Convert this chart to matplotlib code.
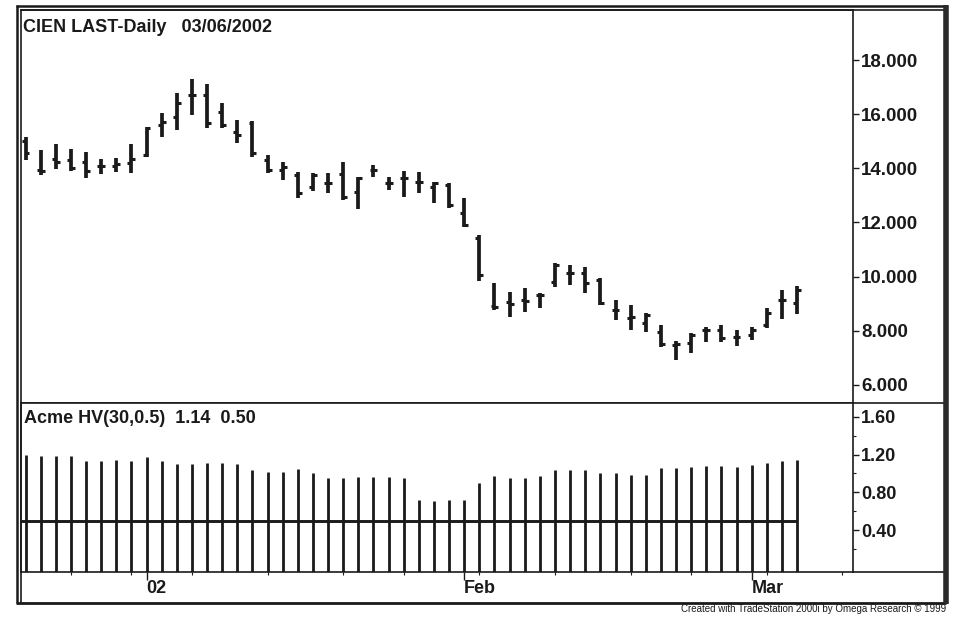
import matplotlib
matplotlib.use("Agg")
import matplotlib.pyplot as plt
from matplotlib.lines import Line2D
from matplotlib.ticker import FixedLocator, FormatStrFormatter
import numpy as np
import pandas as pd

# daily bars, CIEN, 19 Dec 2001 .. 6 Mar 2002
opens = [15.0, 13.95, 14.35, 14.3, 14.23, 14.1, 14.1, 14.2, 14.5, 15.6,
         15.9, 16.7, 16.7, 16.08, 15.34, 15.67, 14.3, 13.94, 13.75, 13.3,
         13.45, 13.8, 13.13, 13.94, 13.45, 13.64, 13.5, 13.3, 13.4, 12.35,
         11.43, 8.9, 9.06, 9.14, 9.32, 9.8, 10.13, 10.13, 9.88, 8.77,
         8.47, 8.3, 7.96, 7.48, 7.55, 8.03, 8.03, 7.77, 7.85, 8.2,
         9.14, 9.03]
highs = [15.17, 14.68, 14.9, 14.7, 14.6, 14.35, 14.4, 14.9, 15.53, 16.05,
         16.78, 17.3, 17.11, 16.4, 15.78, 15.75, 14.5, 14.23, 13.87, 13.83,
         13.83, 14.23, 13.68, 14.12, 13.68, 13.9, 13.87, 13.5, 13.46, 12.9,
         11.54, 9.77, 9.43, 9.58, 9.4, 10.5, 10.43, 10.36, 9.95, 9.14,
         8.95, 8.66, 8.2, 7.63, 7.92, 8.14, 8.2, 8.03, 8.14, 8.84,
         9.5, 9.65]
lows = [14.31, 13.75, 13.97, 13.9, 13.65, 13.8, 13.87, 13.82, 14.42, 15.17,
        15.41, 15.97, 15.5, 15.5, 14.93, 14.42, 13.83, 13.57, 12.9, 13.16,
        13.1, 12.83, 12.5, 13.68, 13.2, 12.94, 13.1, 12.72, 12.53, 11.83,
        9.85, 8.77, 8.5, 8.7, 8.84, 9.62, 9.69, 9.4, 8.95, 8.4,
        8.03, 7.96, 7.4, 6.92, 7.18, 7.6, 7.6, 7.44, 7.66, 8.1,
        8.44, 8.62]
closes = [14.57, 13.9, 14.25, 14.0, 13.9, 14.1, 14.15, 14.35, 15.5, 15.7,
          16.4, 16.7, 15.67, 15.6, 15.25, 14.56, 13.94, 14.05, 13.1, 13.75,
          13.45, 12.95, 13.64, 13.94, 13.45, 13.64, 13.5, 13.45, 12.65, 11.9,
          10.06, 8.88, 9.0, 9.1, 9.32, 10.43, 10.13, 9.77, 9.03, 8.77,
          8.5, 8.58, 7.5, 7.5, 7.85, 8.03, 7.74, 7.77, 8.03, 8.66,
          9.14, 9.5]

# Acme HV(30,0.5) histogram and its 0.50 reference level
hv = [1.20, 1.18, 1.18, 1.18, 1.13, 1.13, 1.14, 1.13, 1.17, 1.13,
      1.10, 1.10, 1.11, 1.11, 1.10, 1.04, 1.02, 1.02, 1.05, 1.00,
      0.95, 0.95, 0.96, 0.96, 0.96, 0.95, 0.72, 0.71, 0.72, 0.72,
      0.90, 0.97, 0.95, 0.95, 0.97, 1.04, 1.04, 1.04, 1.00, 1.00,
      0.98, 0.98, 1.06, 1.06, 1.07, 1.08, 1.08, 1.07, 1.09, 1.11,
      1.13, 1.14]
hv_level = 0.50

price_ticks = [6, 8, 10, 12, 14, 16, 18]
hv_ticks = [0.4, 0.8, 1.2, 1.6]
hv_minor = [0.2, 0.6, 1.0, 1.4]
month_names = {1: "02", 2: "Feb", 3: "Mar"}
holidays = ["2001-12-25", "2002-01-01", "2002-01-21", "2002-02-18"]

# trading calendar (runs a few days past the last bar, like the chart)
days = pd.bdate_range("2001-12-19", "2002-03-11")
days = days[~days.isin(pd.to_datetime(holidays))]
month_idx = [i for i in range(1, len(days)) if days[i].month != days[i - 1].month]
week_idx = [i for i in range(1, len(days))
            if days[i].isocalendar()[1] != days[i - 1].isocalendar()[1]
            and i not in month_idx]

W, H = 956, 618
INK = "#1a1a1a"


def px_rect(x0, y0, x1, y1):
    return [x0 / W, 1 - y1 / H, (x1 - x0) / W, (y1 - y0) / H]


def fig_line(fig, xs, ys, lw, color=INK):
    fig.add_artist(Line2D([x / W for x in xs], [1 - y / H for y in ys],
                          transform=fig.transFigure, lw=lw, color=color,
                          solid_capstyle="butt"))


def main() -> None:
    plt.rcParams["font.family"] = ["Liberation Sans", "DejaVu Sans"]
    fig = plt.figure(figsize=(W / 100, H / 100), dpi=100)
    fig.patch.set_facecolor("white")

    ax_p = fig.add_axes(px_rect(21, 10, 853, 403))
    ax_h = fig.add_axes(px_rect(21, 403, 853, 572), sharex=ax_p)

    x = np.arange(len(closes))
    tick_w = 0.26

    # OHLC bars
    ax_p.vlines(x, lows, highs, color=INK, lw=2.7)
    ax_p.hlines(opens, x - tick_w, x, color=INK, lw=2.2)
    ax_p.hlines(closes, x, x + tick_w, color=INK, lw=2.2)
    ax_p.set_xlim(-0.3, 54.7)
    ax_p.set_ylim(5.33, 19.85)

    # HV histogram
    hv_lim = (-0.043, 1.745)
    ax_h.vlines(x, hv_lim[0], hv, color=INK, lw=2.0)
    ax_h.hlines(hv_level, -0.3, x[-1], color=INK, lw=2.1)
    ax_h.set_ylim(*hv_lim)

    for ax in (ax_p, ax_h):
        for side in ("left", "right", "top", "bottom"):
            ax.spines[side].set_color(INK)
            ax.spines[side].set_linewidth(1.2)
        ax.yaxis.tick_right()
        ax.tick_params(axis="y", which="major", direction="out", length=4,
                       width=1.0, pad=2, colors=INK)

    ax_p.yaxis.set_major_locator(FixedLocator(price_ticks))
    ax_p.yaxis.set_major_formatter(FormatStrFormatter("%.3f"))
    ax_p.tick_params(axis="y", labelsize=13.5)
    ax_p.tick_params(axis="x", which="both", bottom=False, labelbottom=False)

    ax_h.yaxis.set_major_locator(FixedLocator(hv_ticks))
    ax_h.yaxis.set_minor_locator(FixedLocator(hv_minor))
    ax_h.yaxis.set_major_formatter(FormatStrFormatter("%.2f"))
    ax_h.tick_params(axis="y", labelsize=13)
    ax_h.tick_params(axis="y", which="minor", direction="out", length=2.5,
                     width=0.8, colors=INK)

    ax_h.xaxis.set_major_locator(FixedLocator(month_idx))
    ax_h.xaxis.set_minor_locator(FixedLocator(week_idx))
    ax_h.set_xticklabels([month_names[days[i].month] for i in month_idx])
    ax_h.tick_params(axis="x", which="major", direction="out", length=5.5,
                     width=1.0, pad=0.5, labelsize=13, colors=INK)
    ax_h.tick_params(axis="x", which="minor", direction="out", length=2.5,
                     width=0.8, colors=INK)
    for lab in ax_h.get_xticklabels():
        lab.set_fontweight("bold")
        lab.set_horizontalalignment("left")
    for lab in ax_h.get_yticklabels() + ax_p.get_yticklabels():
        lab.set_fontweight("bold")

    fig.text(23 / W, 1 - 32 / H, "CIEN LAST-Daily   03/06/2002",
             fontsize=13, fontweight="bold", color=INK, va="baseline")
    fig.text(24 / W, 1 - 423 / H, "Acme HV(30,0.5)  1.14  0.50",
             fontsize=13, fontweight="bold", color=INK, va="baseline")

    # window frame around the chart
    fig_line(fig, [16.5, 16.5], [5, 603], 1.8)
    fig_line(fig, [21, 21], [403, 603], 1.2)
    fig_line(fig, [16, 946], [6, 6], 1.8)
    fig_line(fig, [21, 946], [10, 10], 1.2)
    fig_line(fig, [853, 946], [403, 403], 1.2)
    fig_line(fig, [853, 946], [572, 572], 1.2)
    fig_line(fig, [16, 946], [603, 603], 2.0)
    fig_line(fig, [945.5, 945.5], [5, 604], 4.0, "#2a2a2a")

    fig.text(946 / W, 1 - 609 / H,
             "Created with TradeStation 2000i by Omega Research \u00a9 1999",
             fontsize=7, color=INK, ha="right", va="center",
             family=["Liberation Sans Narrow", "Liberation Sans", "DejaVu Sans"])

    fig.savefig("out.png", dpi=100, facecolor="white")


if __name__ == "__main__":
    main()
